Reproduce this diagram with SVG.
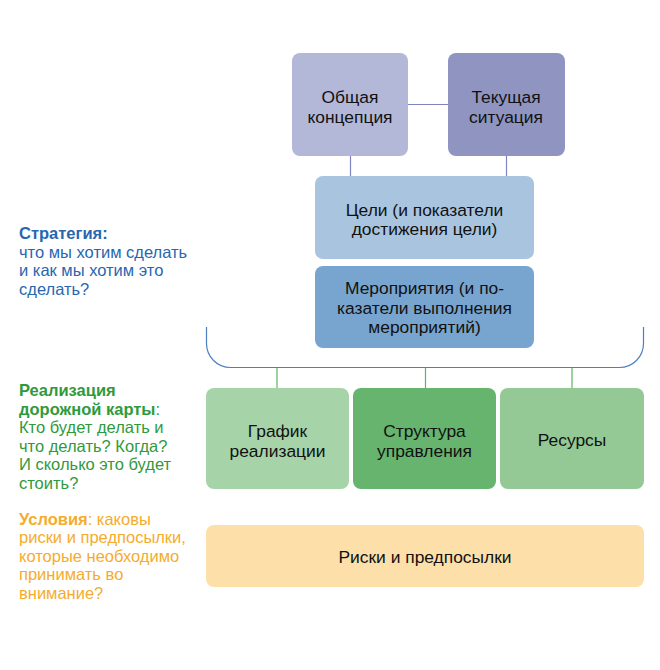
<svg xmlns="http://www.w3.org/2000/svg" width="660" height="670" viewBox="0 0 660 670">
<style>
.box text{font-family:"Liberation Sans",Arial,sans-serif;font-size:17.4px;fill:#111;text-anchor:middle}
.side{font-family:"Liberation Sans",Arial,sans-serif;font-size:16.5px}
.b{font-weight:bold}
.blue{fill:#2767B0}
.green{fill:#2F9A3B}
.orange{fill:#F5AC2E}
</style>
<rect width="660" height="670" fill="#fff"/>
<g id="connectors" fill="none">
<path d="M408,104.5H448M350.5,156V176M506.5,156V176" stroke="#7F84C2" stroke-width="1.2"/>
<path d="M206.5,327V343.5A24,24 0 0 0 230.5,367.5H619.5A24,24 0 0 0 643.5,343.5V327" stroke="#4B7FC0" stroke-width="1.2"/>
<path d="M277,368V388M425.5,368V388M572,368V388" stroke="#5DB463" stroke-width="1.2"/>
</g>
<g id="n-concept" class="box"><rect x="292" y="53" width="116" height="103" rx="8" fill="#B3B7D8"/><text x="350" y="103.25">Общая</text><text x="350" y="122.75">концепция</text></g>
<g id="n-current" class="box"><rect x="448" y="53" width="117" height="103" rx="8" fill="#9094C1"/><text x="506" y="103.25">Текущая</text><text x="506" y="122.75">ситуация</text></g>
<g id="n-goals" class="box"><rect x="315" y="176" width="219" height="83" rx="8" fill="#A9C4DF"/><text x="424.5" y="215.5">Цели (и показатели</text><text x="424.5" y="235">достижения цели)</text></g>
<g id="n-measures" class="box"><rect x="315" y="266" width="219" height="82" rx="8" fill="#78A5CF"/><text x="424.5" y="294.25">Мероприятия (и по-</text><text x="424.5" y="313.75">казатели выполнения</text><text x="424.5" y="333.25">мероприятий)</text></g>
<g id="n-schedule" class="box"><rect x="206" y="388" width="143" height="101" rx="8" fill="#A7D3A9"/><text x="277.5" y="437">График</text><text x="277.5" y="456.5">реализации</text></g>
<g id="n-structure" class="box"><rect x="353" y="388" width="143" height="101" rx="8" fill="#66B46D"/><text x="424.5" y="437">Структура</text><text x="424.5" y="456.5">управления</text></g>
<g id="n-resources" class="box"><rect x="500" y="388" width="144" height="101" rx="8" fill="#94C995"/><text x="572" y="446">Ресурсы</text></g>
<g id="n-risks" class="box"><rect x="206" y="525" width="438" height="62" rx="8" fill="#FCDFA9"/><text x="425" y="563">Риски и предпосылки</text></g>
<g id="label-strategy" class="side blue">
<text x="19" y="239" class="b">Стратегия:</text>
<text x="19" y="257.5">что мы хотим сделать</text>
<text x="19" y="276">и как мы хотим это</text>
<text x="19" y="294.5">сделать?</text>
</g>
<g id="label-roadmap" class="side green">
<text x="19" y="396" class="b">Реализация</text>
<text x="19" y="414.5"><tspan class="b">дорожной карты</tspan>:</text>
<text x="19" y="433">Кто будет делать и</text>
<text x="19" y="451.5">что делать? Когда?</text>
<text x="19" y="470">И сколько это будет</text>
<text x="19" y="488.5">стоить?</text>
</g>
<g id="label-conditions" class="side orange">
<text x="19" y="524.5"><tspan class="b">Условия</tspan>: каковы</text>
<text x="19" y="543">риски и предпосылки,</text>
<text x="19" y="561.5">которые необходимо</text>
<text x="19" y="580">принимать во</text>
<text x="19" y="598.5">внимание?</text>
</g>
</svg>
